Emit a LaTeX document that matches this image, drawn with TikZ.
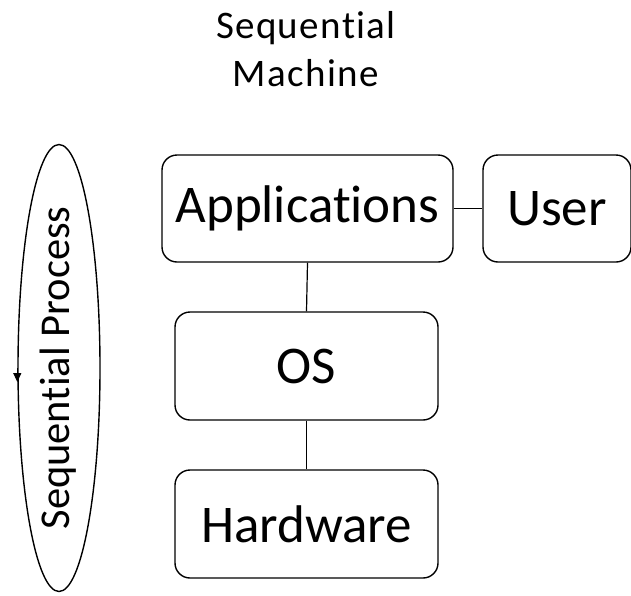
\documentclass[tikz,border=0pt]{standalone}
\usepackage{fontspec}
\setmainfont{Carlito}[Ligatures=NoCommon, RawFeature={-liga;-clig;-calt}]
\newfontfamily\spacedfont{Carlito}[LetterSpace=3.5, Ligatures=NoCommon, RawFeature={-liga;-clig;-calt}]
\usetikzlibrary{shapes.geometric,arrows.meta}
\begin{document}
\begin{tikzpicture}[x=1pt,y=-1pt,
  layer/.style={draw, line width=1.4pt, rounded corners=15pt, inner sep=0pt,
    font=\fontsize{53}{60}\selectfont},
  link/.style={line width=1.2pt}]
\useasboundingbox (0,0) rectangle (631,595);

% title
\node (title) at (306,49) [align=center, font=\spacedfont\fontsize{39}{48}\selectfont]
  {Sequential\\Machine};

% layered boxes
\node[layer, minimum width=291pt, minimum height=107pt] (apps) at (307.5,208.5) {Applications};
\node[layer, minimum width=148pt, minimum height=107pt] (user) at (557,208.5) {User};
\node[layer, minimum width=263pt, minimum height=108pt] (os) at (306.5,366) {OS};
\node[layer, minimum width=263pt, minimum height=108pt] (hw) at (306.5,524) {Hardware};

% connectors
\draw[link] (apps.east) -- (user.west);
\draw[link] (apps.south) -- (os.north);
\draw[link] (os.south) -- (hw.north);

% sequential process loop
\node[ellipse, draw, line width=1.4pt, minimum width=82pt, minimum height=447pt, inner sep=0pt]
  (loop) at (59,368) {};
\node[rotate=90, font=\fontsize{42.5}{48}\selectfont] (looptext) at (58,368) {Sequential Process};
\draw[line width=1.2pt, -{Triangle[length=9pt,width=8pt]}] (loop.west) -- ([yshift=-14pt]loop.west);
\end{tikzpicture}
\end{document}
